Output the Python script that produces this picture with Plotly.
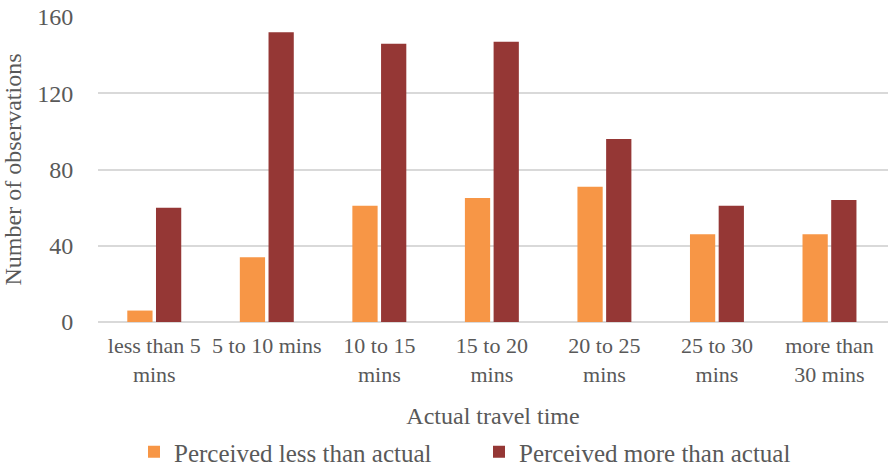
import plotly.graph_objects as go

categories = ["less than 5<br>mins", "5 to 10 mins", "10 to 15<br>mins", "15 to 20<br>mins",
              "20 to 25<br>mins", "25 to 30<br>mins", "more than<br>30 mins"]
perceived_less = [6, 34, 61, 65, 71, 46, 46]
perceived_more = [60, 152, 146, 147, 96, 61, 64]
y_ticks = [0, 40, 80, 120, 160]

FONT = "Liberation Serif, Times New Roman, serif"
GREY = "#595959"

fig = go.Figure()
fig.add_trace(go.Bar(x=list(range(len(categories))), y=perceived_less, name="Perceived less than actual",
                     marker=dict(color="#F79646", line=dict(width=0))))
fig.add_trace(go.Bar(x=list(range(len(categories))), y=perceived_more, name="Perceived more than actual",
                     marker=dict(color="#953735", line=dict(width=0))))

fig.update_layout(
    width=888, height=468,
    margin=dict(l=98, r=0, t=17, b=146),
    paper_bgcolor="white", plot_bgcolor="white",
    barmode="group", bargap=0.49, bargroupgap=0.12,
    font=dict(family=FONT, color=GREY, size=22),
    showlegend=True,
    legend=dict(orientation="h", xref="container", yref="container",
                x=134 / 888, xanchor="left", y=39 / 468, yanchor="top",
                font=dict(size=25, color=GREY), entrywidth=300, entrywidthmode="pixels",
                itemclick=False),
    xaxis=dict(
        tickmode="array", tickvals=list(range(len(categories))), ticktext=categories,
        range=[-0.5, 6.52], showgrid=False, zeroline=False, showline=False, automargin=False,
        ticks="", tickfont=dict(size=22, color=GREY), ticklabelstandoff=8,
        ticklabeloverflow="allow",
        title=dict(text="Actual travel time", font=dict(size=24, color=GREY), standoff=21),
    ),
    yaxis=dict(
        range=[0, 160], tickmode="array", tickvals=y_ticks, automargin=False,
        showgrid=True, gridcolor="#D9D9D9", gridwidth=1.5,
        zeroline=True, zerolinecolor="#D9D9D9", zerolinewidth=1.5,
        showline=False, ticks="outside", ticklen=19, tickcolor="rgba(0,0,0,0)",
        tickfont=dict(size=24, color=GREY), ticklabelstandoff=0,
        title=dict(text="Number of observations", font=dict(size=24, color=GREY), standoff=9),
    ),
)

fig.write_html("out.html", config={"displayModeBar": False},
               post_script="document.body.style.margin='0';document.body.style.overflow='hidden';")
